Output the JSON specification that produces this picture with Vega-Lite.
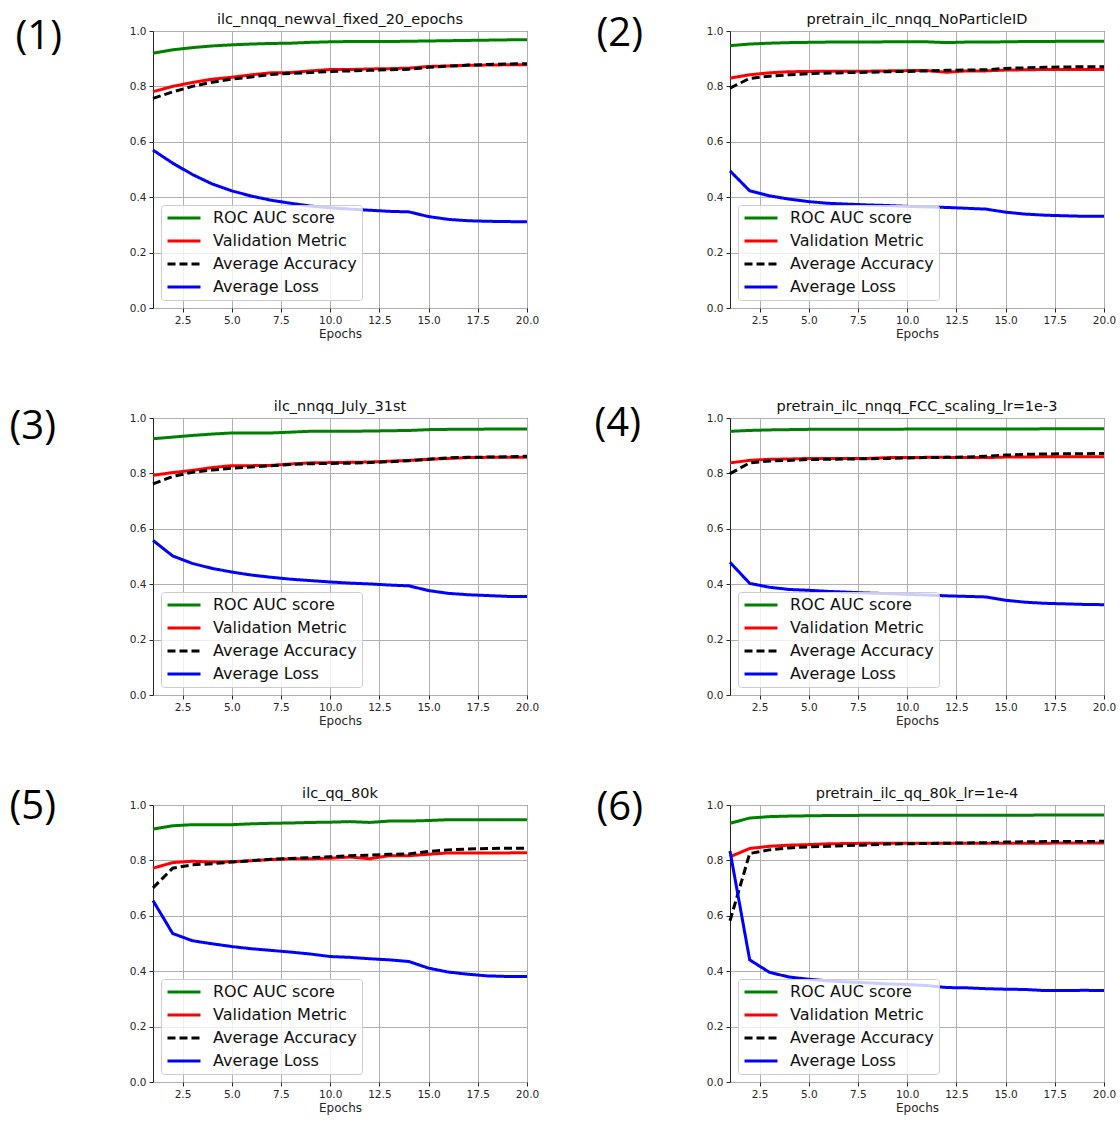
{
  "$schema": "https://vega.github.io/schema/vega-lite/v6.json",
  "background": "white",
  "padding": {"left": 8, "top": 11, "right": 5, "bottom": 5},
  "config": {
    "view": {"stroke": "#222222", "strokeWidth": 1},
    "title": {"font": "DejaVu Sans", "fontSize": 14.5, "fontWeight": "normal", "color": "#111111", "frame": "group"},
    "axis": {
      "labelFont": "DejaVu Sans", "labelFontSize": 10.5, "labelColor": "#262626",
      "tickColor": "#262626", "tickSize": 4, "labelPadding": 3, "domain": false,
      "grid": true, "gridColor": "#b0b0b0", "gridWidth": 1,
      "labelFlush": false, "labelOverlap": false
    },
    "axisX": {"titleFont": "DejaVu Sans", "titleFontSize": 12, "titleFontWeight": "normal", "titleColor": "#262626", "titlePadding": 3},
    "axisY": {"titleFont": "Open Sans", "titleFontSize": 40, "titleFontWeight": "normal", "titleColor": "#000000", "titleAngle": 0, "titleAlign": "left", "titleBaseline": "middle"},
    "legend": {
      "orient": "bottom-left", "offset": 8, "padding": 5,
      "fillColor": "rgba(255,255,255,0.8)", "strokeColor": "#cccccc", "cornerRadius": 3,
      "labelFont": "DejaVu Sans", "labelFontSize": 16, "labelColor": "#111111", "labelLimit": 400,
      "symbolType": "stroke", "symbolSize": 1089, "symbolStrokeWidth": 3, "symbolOffset": 0,
      "clipHeight": 16, "rowPadding": 7, "labelOffset": 11
    }
  },
  "datasets": {
    "p1": [
      {"epoch": 1, "roc": 0.920, "val": 0.781, "acc": 0.757, "loss": 0.570},
      {"epoch": 2, "roc": 0.932, "val": 0.800, "acc": 0.780, "loss": 0.523},
      {"epoch": 3, "roc": 0.940, "val": 0.814, "acc": 0.800, "loss": 0.482},
      {"epoch": 4, "roc": 0.946, "val": 0.826, "acc": 0.815, "loss": 0.448},
      {"epoch": 5, "roc": 0.950, "val": 0.833, "acc": 0.826, "loss": 0.423},
      {"epoch": 6, "roc": 0.953, "val": 0.842, "acc": 0.834, "loss": 0.404},
      {"epoch": 7, "roc": 0.955, "val": 0.849, "acc": 0.843, "loss": 0.389},
      {"epoch": 8, "roc": 0.956, "val": 0.850, "acc": 0.847, "loss": 0.378},
      {"epoch": 9, "roc": 0.959, "val": 0.856, "acc": 0.850, "loss": 0.368},
      {"epoch": 10, "roc": 0.961, "val": 0.861, "acc": 0.854, "loss": 0.362},
      {"epoch": 11, "roc": 0.962, "val": 0.861, "acc": 0.856, "loss": 0.357},
      {"epoch": 12, "roc": 0.962, "val": 0.863, "acc": 0.858, "loss": 0.353},
      {"epoch": 13, "roc": 0.962, "val": 0.864, "acc": 0.860, "loss": 0.349},
      {"epoch": 14, "roc": 0.963, "val": 0.866, "acc": 0.862, "loss": 0.347},
      {"epoch": 15, "roc": 0.964, "val": 0.872, "acc": 0.869, "loss": 0.330},
      {"epoch": 16, "roc": 0.965, "val": 0.874, "acc": 0.873, "loss": 0.320},
      {"epoch": 17, "roc": 0.966, "val": 0.876, "acc": 0.877, "loss": 0.315},
      {"epoch": 18, "roc": 0.967, "val": 0.877, "acc": 0.879, "loss": 0.313},
      {"epoch": 19, "roc": 0.968, "val": 0.878, "acc": 0.881, "loss": 0.312},
      {"epoch": 20, "roc": 0.968, "val": 0.878, "acc": 0.882, "loss": 0.311}
    ],
    "p2": [
      {"epoch": 1, "roc": 0.947, "val": 0.830, "acc": 0.794, "loss": 0.495},
      {"epoch": 2, "roc": 0.953, "val": 0.842, "acc": 0.829, "loss": 0.423},
      {"epoch": 3, "roc": 0.956, "val": 0.849, "acc": 0.837, "loss": 0.405},
      {"epoch": 4, "roc": 0.958, "val": 0.853, "acc": 0.842, "loss": 0.393},
      {"epoch": 5, "roc": 0.959, "val": 0.854, "acc": 0.846, "loss": 0.384},
      {"epoch": 6, "roc": 0.960, "val": 0.855, "acc": 0.848, "loss": 0.378},
      {"epoch": 7, "roc": 0.960, "val": 0.855, "acc": 0.850, "loss": 0.375},
      {"epoch": 8, "roc": 0.960, "val": 0.855, "acc": 0.851, "loss": 0.372},
      {"epoch": 9, "roc": 0.961, "val": 0.856, "acc": 0.853, "loss": 0.370},
      {"epoch": 10, "roc": 0.961, "val": 0.857, "acc": 0.854, "loss": 0.367},
      {"epoch": 11, "roc": 0.961, "val": 0.857, "acc": 0.856, "loss": 0.365},
      {"epoch": 12, "roc": 0.958, "val": 0.851, "acc": 0.858, "loss": 0.363},
      {"epoch": 13, "roc": 0.960, "val": 0.856, "acc": 0.859, "loss": 0.360},
      {"epoch": 14, "roc": 0.960, "val": 0.856, "acc": 0.860, "loss": 0.357},
      {"epoch": 15, "roc": 0.961, "val": 0.859, "acc": 0.865, "loss": 0.346},
      {"epoch": 16, "roc": 0.962, "val": 0.860, "acc": 0.867, "loss": 0.339},
      {"epoch": 17, "roc": 0.962, "val": 0.861, "acc": 0.869, "loss": 0.335},
      {"epoch": 18, "roc": 0.963, "val": 0.861, "acc": 0.870, "loss": 0.333},
      {"epoch": 19, "roc": 0.963, "val": 0.861, "acc": 0.871, "loss": 0.331},
      {"epoch": 20, "roc": 0.963, "val": 0.861, "acc": 0.871, "loss": 0.331}
    ],
    "p3": [
      {"epoch": 1, "roc": 0.925, "val": 0.793, "acc": 0.762, "loss": 0.558},
      {"epoch": 2, "roc": 0.931, "val": 0.803, "acc": 0.789, "loss": 0.502},
      {"epoch": 3, "roc": 0.937, "val": 0.811, "acc": 0.804, "loss": 0.475},
      {"epoch": 4, "roc": 0.942, "val": 0.821, "acc": 0.812, "loss": 0.457},
      {"epoch": 5, "roc": 0.946, "val": 0.828, "acc": 0.819, "loss": 0.444},
      {"epoch": 6, "roc": 0.946, "val": 0.828, "acc": 0.823, "loss": 0.433},
      {"epoch": 7, "roc": 0.946, "val": 0.829, "acc": 0.828, "loss": 0.425},
      {"epoch": 8, "roc": 0.949, "val": 0.834, "acc": 0.832, "loss": 0.418},
      {"epoch": 9, "roc": 0.952, "val": 0.838, "acc": 0.835, "loss": 0.413},
      {"epoch": 10, "roc": 0.952, "val": 0.839, "acc": 0.836, "loss": 0.408},
      {"epoch": 11, "roc": 0.952, "val": 0.840, "acc": 0.837, "loss": 0.404},
      {"epoch": 12, "roc": 0.953, "val": 0.841, "acc": 0.839, "loss": 0.401},
      {"epoch": 13, "roc": 0.954, "val": 0.844, "acc": 0.842, "loss": 0.397},
      {"epoch": 14, "roc": 0.955, "val": 0.847, "acc": 0.846, "loss": 0.394},
      {"epoch": 15, "roc": 0.958, "val": 0.851, "acc": 0.851, "loss": 0.377},
      {"epoch": 16, "roc": 0.959, "val": 0.854, "acc": 0.856, "loss": 0.367},
      {"epoch": 17, "roc": 0.959, "val": 0.857, "acc": 0.858, "loss": 0.362},
      {"epoch": 18, "roc": 0.960, "val": 0.858, "acc": 0.859, "loss": 0.359},
      {"epoch": 19, "roc": 0.960, "val": 0.858, "acc": 0.860, "loss": 0.356},
      {"epoch": 20, "roc": 0.960, "val": 0.858, "acc": 0.862, "loss": 0.356}
    ],
    "p4": [
      {"epoch": 1, "roc": 0.952, "val": 0.838, "acc": 0.799, "loss": 0.479},
      {"epoch": 2, "roc": 0.955, "val": 0.847, "acc": 0.838, "loss": 0.403},
      {"epoch": 3, "roc": 0.957, "val": 0.851, "acc": 0.845, "loss": 0.389},
      {"epoch": 4, "roc": 0.958, "val": 0.852, "acc": 0.847, "loss": 0.381},
      {"epoch": 5, "roc": 0.959, "val": 0.854, "acc": 0.850, "loss": 0.378},
      {"epoch": 6, "roc": 0.959, "val": 0.854, "acc": 0.851, "loss": 0.374},
      {"epoch": 7, "roc": 0.959, "val": 0.854, "acc": 0.852, "loss": 0.371},
      {"epoch": 8, "roc": 0.959, "val": 0.854, "acc": 0.853, "loss": 0.368},
      {"epoch": 9, "roc": 0.959, "val": 0.857, "acc": 0.854, "loss": 0.366},
      {"epoch": 10, "roc": 0.960, "val": 0.857, "acc": 0.856, "loss": 0.363},
      {"epoch": 11, "roc": 0.960, "val": 0.858, "acc": 0.857, "loss": 0.361},
      {"epoch": 12, "roc": 0.960, "val": 0.858, "acc": 0.858, "loss": 0.358},
      {"epoch": 13, "roc": 0.960, "val": 0.857, "acc": 0.859, "loss": 0.356},
      {"epoch": 14, "roc": 0.960, "val": 0.857, "acc": 0.862, "loss": 0.354},
      {"epoch": 15, "roc": 0.960, "val": 0.859, "acc": 0.866, "loss": 0.342},
      {"epoch": 16, "roc": 0.960, "val": 0.859, "acc": 0.869, "loss": 0.335},
      {"epoch": 17, "roc": 0.961, "val": 0.860, "acc": 0.870, "loss": 0.331},
      {"epoch": 18, "roc": 0.961, "val": 0.860, "acc": 0.871, "loss": 0.329},
      {"epoch": 19, "roc": 0.961, "val": 0.860, "acc": 0.871, "loss": 0.327},
      {"epoch": 20, "roc": 0.961, "val": 0.860, "acc": 0.872, "loss": 0.326}
    ],
    "p5": [
      {"epoch": 1, "roc": 0.913, "val": 0.772, "acc": 0.701, "loss": 0.655},
      {"epoch": 2, "roc": 0.925, "val": 0.792, "acc": 0.772, "loss": 0.536},
      {"epoch": 3, "roc": 0.929, "val": 0.797, "acc": 0.784, "loss": 0.510},
      {"epoch": 4, "roc": 0.929, "val": 0.794, "acc": 0.788, "loss": 0.499},
      {"epoch": 5, "roc": 0.929, "val": 0.795, "acc": 0.794, "loss": 0.489},
      {"epoch": 6, "roc": 0.932, "val": 0.799, "acc": 0.799, "loss": 0.481},
      {"epoch": 7, "roc": 0.934, "val": 0.803, "acc": 0.804, "loss": 0.475},
      {"epoch": 8, "roc": 0.935, "val": 0.806, "acc": 0.807, "loss": 0.469},
      {"epoch": 9, "roc": 0.937, "val": 0.806, "acc": 0.810, "loss": 0.462},
      {"epoch": 10, "roc": 0.938, "val": 0.808, "acc": 0.813, "loss": 0.453},
      {"epoch": 11, "roc": 0.940, "val": 0.812, "acc": 0.817, "loss": 0.450},
      {"epoch": 12, "roc": 0.937, "val": 0.806, "acc": 0.819, "loss": 0.445},
      {"epoch": 13, "roc": 0.942, "val": 0.817, "acc": 0.822, "loss": 0.441},
      {"epoch": 14, "roc": 0.942, "val": 0.817, "acc": 0.823, "loss": 0.435},
      {"epoch": 15, "roc": 0.944, "val": 0.822, "acc": 0.832, "loss": 0.411},
      {"epoch": 16, "roc": 0.947, "val": 0.827, "acc": 0.838, "loss": 0.397},
      {"epoch": 17, "roc": 0.947, "val": 0.827, "acc": 0.841, "loss": 0.389},
      {"epoch": 18, "roc": 0.947, "val": 0.827, "acc": 0.843, "loss": 0.383},
      {"epoch": 19, "roc": 0.947, "val": 0.827, "acc": 0.844, "loss": 0.381},
      {"epoch": 20, "roc": 0.947, "val": 0.828, "acc": 0.844, "loss": 0.381}
    ],
    "p6": [
      {"epoch": 1, "roc": 0.934, "val": 0.813, "acc": 0.582, "loss": 0.834},
      {"epoch": 2, "roc": 0.953, "val": 0.843, "acc": 0.825, "loss": 0.441},
      {"epoch": 3, "roc": 0.958, "val": 0.851, "acc": 0.838, "loss": 0.396},
      {"epoch": 4, "roc": 0.960, "val": 0.855, "acc": 0.845, "loss": 0.379},
      {"epoch": 5, "roc": 0.961, "val": 0.857, "acc": 0.849, "loss": 0.371},
      {"epoch": 6, "roc": 0.962, "val": 0.860, "acc": 0.851, "loss": 0.365},
      {"epoch": 7, "roc": 0.962, "val": 0.861, "acc": 0.854, "loss": 0.361},
      {"epoch": 8, "roc": 0.963, "val": 0.862, "acc": 0.856, "loss": 0.358},
      {"epoch": 9, "roc": 0.963, "val": 0.862, "acc": 0.859, "loss": 0.354},
      {"epoch": 10, "roc": 0.963, "val": 0.862, "acc": 0.860, "loss": 0.352},
      {"epoch": 11, "roc": 0.963, "val": 0.862, "acc": 0.861, "loss": 0.348},
      {"epoch": 12, "roc": 0.963, "val": 0.862, "acc": 0.862, "loss": 0.341},
      {"epoch": 13, "roc": 0.963, "val": 0.862, "acc": 0.863, "loss": 0.340},
      {"epoch": 14, "roc": 0.963, "val": 0.862, "acc": 0.864, "loss": 0.337},
      {"epoch": 15, "roc": 0.963, "val": 0.862, "acc": 0.866, "loss": 0.335},
      {"epoch": 16, "roc": 0.963, "val": 0.862, "acc": 0.867, "loss": 0.334},
      {"epoch": 17, "roc": 0.964, "val": 0.862, "acc": 0.868, "loss": 0.330},
      {"epoch": 18, "roc": 0.964, "val": 0.863, "acc": 0.868, "loss": 0.330},
      {"epoch": 19, "roc": 0.964, "val": 0.863, "acc": 0.868, "loss": 0.331},
      {"epoch": 20, "roc": 0.964, "val": 0.863, "acc": 0.869, "loss": 0.330}
    ]
  },
  "columns": 2,
  "bounds": "flush",
  "spacing": {"row": 110, "column": 203},
  "resolve": {
    "scale": {"x": "independent", "y": "independent", "color": "independent", "strokeDash": "independent"},
    "legend": {"color": "independent", "strokeDash": "independent"}
  },
  "concat": [
    {
      "title": {"text": "ilc_nnqq_newval_fixed_20_epochs", "offset": -11},
      "width": 374, "height": 277,
      "data": {"name": "p1"},
      "transform": [{"fold": ["roc", "val", "acc", "loss"], "as": ["metric", "value"]}],
      "mark": {"type": "line", "strokeWidth": 3},
      "encoding": {
        "x": {"field": "epoch", "type": "quantitative", "scale": {"domain": [1, 20], "nice": false, "zero": false}, "axis": {"values": [2.5, 5, 7.5, 10, 12.5, 15, 17.5, 20], "format": ".1f", "title": "Epochs"}},
        "y": {"field": "value", "type": "quantitative", "scale": {"domain": [0, 1], "nice": false}, "axis": {"values": [0, 0.2, 0.4, 0.6, 0.8, 1.0], "format": ".1f", "title": "(1)", "titleX": -138, "titleY": 5}},
        "color": {"field": "metric", "type": "nominal", "scale": {"domain": ["roc", "val", "acc", "loss"], "range": ["#008000", "#ff0000", "#000000", "#0000ff"]}, "legend": {"title": null, "labelExpr": "{'roc': 'ROC AUC score', 'val': 'Validation Metric', 'acc': 'Average Accuracy', 'loss': 'Average Loss'}[datum.label]"}},
        "strokeDash": {"field": "metric", "type": "nominal", "scale": {"domain": ["roc", "val", "acc", "loss"], "range": [[1, 0], [1, 0], [8, 4], [1, 0]]}, "legend": {"title": null, "labelExpr": "{'roc': 'ROC AUC score', 'val': 'Validation Metric', 'acc': 'Average Accuracy', 'loss': 'Average Loss'}[datum.label]"}}
      }
    },
    {
      "title": {"text": "pretrain_ilc_nnqq_NoParticleID", "offset": -14},
      "width": 374, "height": 277,
      "data": {"name": "p2"},
      "transform": [{"fold": ["roc", "val", "acc", "loss"], "as": ["metric", "value"]}],
      "mark": {"type": "line", "strokeWidth": 3},
      "encoding": {
        "x": {"field": "epoch", "type": "quantitative", "scale": {"domain": [1, 20], "nice": false, "zero": false}, "axis": {"values": [2.5, 5, 7.5, 10, 12.5, 15, 17.5, 20], "format": ".1f", "title": "Epochs"}},
        "y": {"field": "value", "type": "quantitative", "scale": {"domain": [0, 1], "nice": false}, "axis": {"values": [0, 0.2, 0.4, 0.6, 0.8, 1.0], "format": ".1f", "title": "(2)", "titleX": -134, "titleY": 2}},
        "color": {"field": "metric", "type": "nominal", "scale": {"domain": ["roc", "val", "acc", "loss"], "range": ["#008000", "#ff0000", "#000000", "#0000ff"]}, "legend": {"title": null, "labelExpr": "{'roc': 'ROC AUC score', 'val': 'Validation Metric', 'acc': 'Average Accuracy', 'loss': 'Average Loss'}[datum.label]"}},
        "strokeDash": {"field": "metric", "type": "nominal", "scale": {"domain": ["roc", "val", "acc", "loss"], "range": [[1, 0], [1, 0], [8, 4], [1, 0]]}, "legend": {"title": null, "labelExpr": "{'roc': 'ROC AUC score', 'val': 'Validation Metric', 'acc': 'Average Accuracy', 'loss': 'Average Loss'}[datum.label]"}}
      }
    },
    {
      "title": {"text": "ilc_nnqq_July_31st", "offset": -8},
      "width": 374, "height": 277,
      "data": {"name": "p3"},
      "transform": [{"fold": ["roc", "val", "acc", "loss"], "as": ["metric", "value"]}],
      "mark": {"type": "line", "strokeWidth": 3},
      "encoding": {
        "x": {"field": "epoch", "type": "quantitative", "scale": {"domain": [1, 20], "nice": false, "zero": false}, "axis": {"values": [2.5, 5, 7.5, 10, 12.5, 15, 17.5, 20], "format": ".1f", "title": "Epochs"}},
        "y": {"field": "value", "type": "quantitative", "scale": {"domain": [0, 1], "nice": false}, "axis": {"values": [0, 0.2, 0.4, 0.6, 0.8, 1.0], "format": ".1f", "title": "(3)", "titleX": -144, "titleY": 8}},
        "color": {"field": "metric", "type": "nominal", "scale": {"domain": ["roc", "val", "acc", "loss"], "range": ["#008000", "#ff0000", "#000000", "#0000ff"]}, "legend": {"title": null, "labelExpr": "{'roc': 'ROC AUC score', 'val': 'Validation Metric', 'acc': 'Average Accuracy', 'loss': 'Average Loss'}[datum.label]"}},
        "strokeDash": {"field": "metric", "type": "nominal", "scale": {"domain": ["roc", "val", "acc", "loss"], "range": [[1, 0], [1, 0], [8, 4], [1, 0]]}, "legend": {"title": null, "labelExpr": "{'roc': 'ROC AUC score', 'val': 'Validation Metric', 'acc': 'Average Accuracy', 'loss': 'Average Loss'}[datum.label]"}}
      }
    },
    {
      "title": {"text": "pretrain_ilc_nnqq_FCC_scaling_lr=1e-3", "offset": -11},
      "width": 374, "height": 277,
      "data": {"name": "p4"},
      "transform": [{"fold": ["roc", "val", "acc", "loss"], "as": ["metric", "value"]}],
      "mark": {"type": "line", "strokeWidth": 3},
      "encoding": {
        "x": {"field": "epoch", "type": "quantitative", "scale": {"domain": [1, 20], "nice": false, "zero": false}, "axis": {"values": [2.5, 5, 7.5, 10, 12.5, 15, 17.5, 20], "format": ".1f", "title": "Epochs"}},
        "y": {"field": "value", "type": "quantitative", "scale": {"domain": [0, 1], "nice": false}, "axis": {"values": [0, 0.2, 0.4, 0.6, 0.8, 1.0], "format": ".1f", "title": "(4)", "titleX": -136, "titleY": 5}},
        "color": {"field": "metric", "type": "nominal", "scale": {"domain": ["roc", "val", "acc", "loss"], "range": ["#008000", "#ff0000", "#000000", "#0000ff"]}, "legend": {"title": null, "labelExpr": "{'roc': 'ROC AUC score', 'val': 'Validation Metric', 'acc': 'Average Accuracy', 'loss': 'Average Loss'}[datum.label]"}},
        "strokeDash": {"field": "metric", "type": "nominal", "scale": {"domain": ["roc", "val", "acc", "loss"], "range": [[1, 0], [1, 0], [8, 4], [1, 0]]}, "legend": {"title": null, "labelExpr": "{'roc': 'ROC AUC score', 'val': 'Validation Metric', 'acc': 'Average Accuracy', 'loss': 'Average Loss'}[datum.label]"}}
      }
    },
    {
      "title": {"text": "ilc_qq_80k", "offset": -15},
      "width": 374, "height": 277,
      "data": {"name": "p5"},
      "transform": [{"fold": ["roc", "val", "acc", "loss"], "as": ["metric", "value"]}],
      "mark": {"type": "line", "strokeWidth": 3},
      "encoding": {
        "x": {"field": "epoch", "type": "quantitative", "scale": {"domain": [1, 20], "nice": false, "zero": false}, "axis": {"values": [2.5, 5, 7.5, 10, 12.5, 15, 17.5, 20], "format": ".1f", "title": "Epochs"}},
        "y": {"field": "value", "type": "quantitative", "scale": {"domain": [0, 1], "nice": false}, "axis": {"values": [0, 0.2, 0.4, 0.6, 0.8, 1.0], "format": ".1f", "title": "(5)", "titleX": -144, "titleY": 1}},
        "color": {"field": "metric", "type": "nominal", "scale": {"domain": ["roc", "val", "acc", "loss"], "range": ["#008000", "#ff0000", "#000000", "#0000ff"]}, "legend": {"title": null, "labelExpr": "{'roc': 'ROC AUC score', 'val': 'Validation Metric', 'acc': 'Average Accuracy', 'loss': 'Average Loss'}[datum.label]"}},
        "strokeDash": {"field": "metric", "type": "nominal", "scale": {"domain": ["roc", "val", "acc", "loss"], "range": [[1, 0], [1, 0], [8, 4], [1, 0]]}, "legend": {"title": null, "labelExpr": "{'roc': 'ROC AUC score', 'val': 'Validation Metric', 'acc': 'Average Accuracy', 'loss': 'Average Loss'}[datum.label]"}}
      }
    },
    {
      "title": {"text": "pretrain_ilc_qq_80k_lr=1e-4", "offset": -14},
      "width": 374, "height": 277,
      "data": {"name": "p6"},
      "transform": [{"fold": ["roc", "val", "acc", "loss"], "as": ["metric", "value"]}],
      "mark": {"type": "line", "strokeWidth": 3},
      "encoding": {
        "x": {"field": "epoch", "type": "quantitative", "scale": {"domain": [1, 20], "nice": false, "zero": false}, "axis": {"values": [2.5, 5, 7.5, 10, 12.5, 15, 17.5, 20], "format": ".1f", "title": "Epochs"}},
        "y": {"field": "value", "type": "quantitative", "scale": {"domain": [0, 1], "nice": false}, "axis": {"values": [0, 0.2, 0.4, 0.6, 0.8, 1.0], "format": ".1f", "title": "(6)", "titleX": -134, "titleY": 2}},
        "color": {"field": "metric", "type": "nominal", "scale": {"domain": ["roc", "val", "acc", "loss"], "range": ["#008000", "#ff0000", "#000000", "#0000ff"]}, "legend": {"title": null, "labelExpr": "{'roc': 'ROC AUC score', 'val': 'Validation Metric', 'acc': 'Average Accuracy', 'loss': 'Average Loss'}[datum.label]"}},
        "strokeDash": {"field": "metric", "type": "nominal", "scale": {"domain": ["roc", "val", "acc", "loss"], "range": [[1, 0], [1, 0], [8, 4], [1, 0]]}, "legend": {"title": null, "labelExpr": "{'roc': 'ROC AUC score', 'val': 'Validation Metric', 'acc': 'Average Accuracy', 'loss': 'Average Loss'}[datum.label]"}}
      }
    }
  ]
}
